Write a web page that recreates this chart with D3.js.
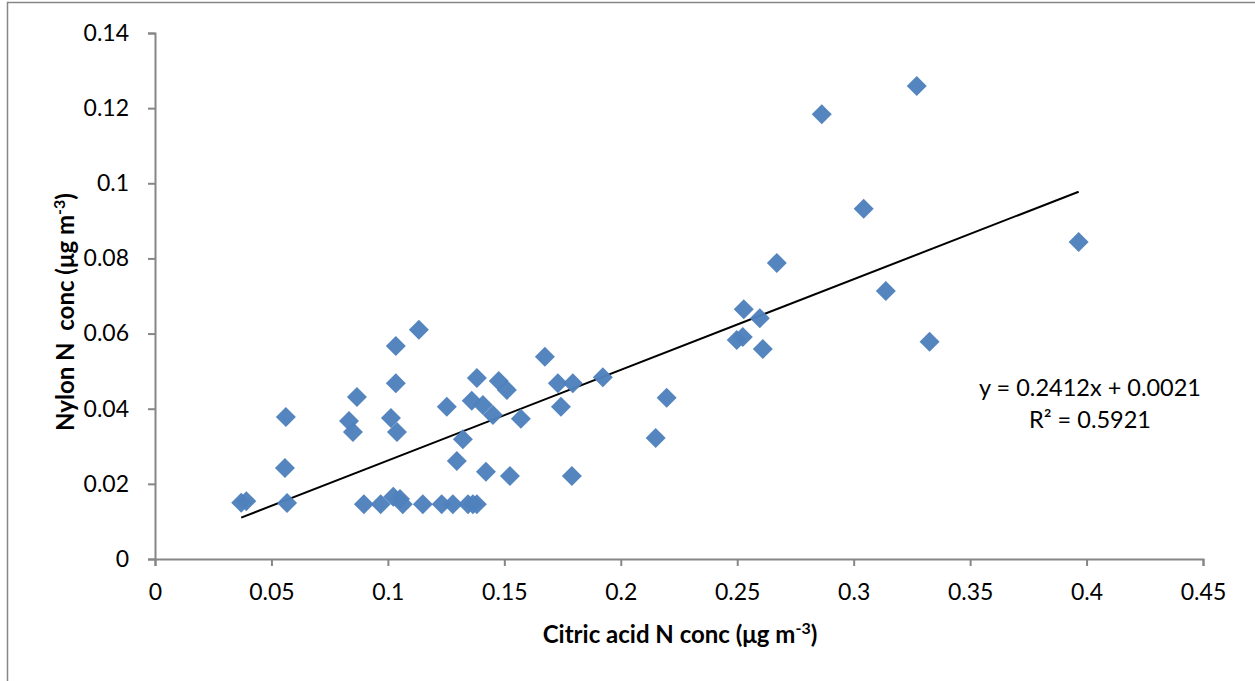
<!DOCTYPE html>
<html>
<head>
<meta charset="utf-8">
<script src="https://cdn.jsdelivr.net/npm/d3@7/dist/d3.min.js"></script>
<style>
    body { margin: 0; background: #fff; }
    svg { display: block; font-family: Lato, "Open Sans", sans-serif; }
</style>
</head>
<body>
<div id="chart"></div>
<script>
'use strict';

// citric acid N conc (x) vs nylon N conc (y), ug m-3
var citricN = [
    0.0370, 0.0392, 0.0562, 0.0558, 0.0567, 0.0867, 0.0833, 0.0850, 0.1034, 0.1133,
    0.1034, 0.1013, 0.1039, 0.1253, 0.1382, 0.1360, 0.1408, 0.1451, 0.1476, 0.1511,
    0.1571, 0.1674, 0.1322, 0.1296, 0.1421, 0.1524,
    0.0897, 0.0969, 0.1023, 0.1052, 0.1064, 0.1150, 0.1231, 0.1279, 0.1344, 0.1365, 0.1382,
    0.1730, 0.1794, 0.1743, 0.1923, 0.2197, 0.2150, 0.1790,
    0.2528, 0.2597, 0.2498, 0.2524, 0.2610,
    0.3271, 0.2863, 0.3043, 0.2670, 0.3138, 0.3966, 0.3326
];
var nylonN = [
    0.0150, 0.0154, 0.0378, 0.0242, 0.0149, 0.0431, 0.0367, 0.0338, 0.0567, 0.0610,
    0.0468, 0.0375, 0.0338, 0.0405, 0.0482, 0.0421, 0.0410, 0.0383, 0.0474, 0.0450,
    0.0373, 0.0538, 0.0319, 0.0261, 0.0232, 0.0221,
    0.0146, 0.0146, 0.0166, 0.0160, 0.0146, 0.0146, 0.0146, 0.0146, 0.0146, 0.0146, 0.0146,
    0.0468, 0.0468, 0.0405, 0.0484, 0.0429, 0.0322, 0.0221,
    0.0665, 0.0641, 0.0583, 0.0591, 0.0559,
    0.1259, 0.1184, 0.0932, 0.0788, 0.0713, 0.0844, 0.0578
];
var xTicks = [0, 0.05, 0.1, 0.15, 0.2, 0.25, 0.3, 0.35, 0.4, 0.45];
var yTicks = [0, 0.02, 0.04, 0.06, 0.08, 0.1, 0.12, 0.14];
var trendSlope = 0.2412, trendIntercept = 0.0021;
var trendText = ['y = 0.2412x + 0.0021', 'R\u00b2 = 0.5921'];

var svgWidth = 1255, svgHeight = 681;
var plotLeft = 155, plotRight = 1203, plotTop = 33, plotBottom = 559;
var axisColor = '#868686', pointColor = '#4f81bd';

var svg = d3.select('#chart')
    .append('svg')
    .attr('width', svgWidth)
    .attr('height', svgHeight);

// chart area frame (left and top edges visible)
svg.append('path')
    .attr('d', 'M7.5,' + svgHeight + ' V2.5 H' + svgWidth)
    .attr('fill', 'none')
    .attr('stroke', axisColor)
    .attr('stroke-width', 1.5);

var x = d3.scaleLinear().domain([0, 0.45]).range([plotLeft, plotRight]);
var y = d3.scaleLinear().domain([0, 0.14]).range([plotBottom, plotTop]);

var xAxis = svg.append('g')
    .attr('transform', 'translate(0,' + plotBottom + ')')
    .call(d3.axisBottom(x).tickValues(xTicks).tickSize(7).tickPadding(18)
        .tickFormat(function (d) { return String(+d.toFixed(2)); }));

var yAxis = svg.append('g')
    .attr('transform', 'translate(' + plotLeft + ',0)')
    .call(d3.axisLeft(y).tickValues(yTicks).tickSize(7).tickPadding(19)
        .tickFormat(function (d) { return String(+d.toFixed(2)); }));

[xAxis, yAxis].forEach(function (g) {
    g.select('.domain').attr('stroke', axisColor).attr('stroke-width', 2);
    g.selectAll('.tick line').attr('stroke', axisColor).attr('stroke-width', 2);
    g.selectAll('.tick text')
        .attr('fill', '#000')
        .style('font-size', '23px')
        .style('font-family', 'Lato, "Open Sans", sans-serif');
});

// trendline over the data range
var xExtent = d3.extent(citricN);
var line = d3.line()
    .x(function (d) { return x(d); })
    .y(function (d) { return y(trendSlope * d + trendIntercept); });

svg.append('path')
    .datum(xExtent)
    .attr('d', line)
    .attr('fill', 'none')
    .attr('stroke', '#000')
    .attr('stroke-width', 2);

var points = citricN.map(function (d, i) {
    return {x: d, y: nylonN[i]};
});

var diamond = 'M0,-10 L10,0 L0,10 L-10,0 Z';

svg.append('g')
    .selectAll('path')
    .data(points)
    .enter().append('path')
    .attr('d', diamond)
    .attr('transform', function (d) {
        return 'translate(' + x(d.x) + ',' + y(d.y) + ')';
    })
    .attr('fill', pointColor)
    .attr('fill-opacity', 0.97);

// equation
svg.append('g')
    .selectAll('text')
    .data(trendText)
    .enter().append('text')
    .attr('x', 1090)
    .attr('y', function (d, i) { return 396 + i * 32; })
    .attr('text-anchor', 'middle')
    .style('font-size', '23.5px')
    .text(function (d) { return d; });

// axis titles
var xTitle = svg.append('text')
    .attr('x', 680)
    .attr('y', 643)
    .attr('text-anchor', 'middle')
    .style('font-size', '24px')
    .style('font-weight', 'bold')
    .text('Citric acid N conc (\u03bcg m');
xTitle.append('tspan')
    .attr('dy', -9)
    .style('font-size', '16px')
    .text('-3');
xTitle.append('tspan')
    .attr('dy', 9)
    .text(')');

var yTitle = svg.append('text')
    .attr('transform', 'translate(74,312) rotate(-90)')
    .attr('text-anchor', 'middle')
    .style('font-size', '24px')
    .style('font-weight', 'bold')
    .text('Nylon N\u00a0 conc (\u03bcg m');
yTitle.append('tspan')
    .attr('dy', -9)
    .style('font-size', '16px')
    .text('-3');
yTitle.append('tspan')
    .attr('dy', 9)
    .text(')');
</script>
</body>
</html>
